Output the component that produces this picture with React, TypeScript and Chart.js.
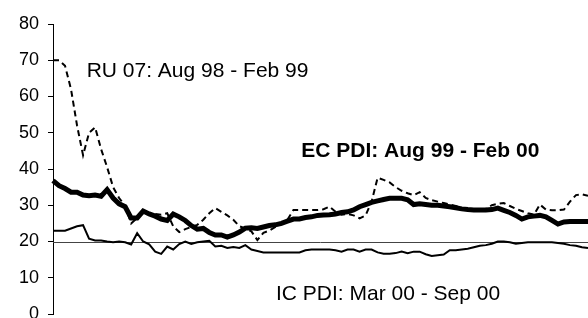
import { useEffect, useRef } from "react";
import { Chart, registerables } from "chart.js";

Chart.register(...registerables);

// Trading days (x categories, not labelled on the chart)
const DAYS: string[] = Array.from({ length: 90 }, (_, i) => `D${i + 1}`);

// RU 07: Aug 98 - Feb 99 (dashed)
const RU07: number[] = [
  70, 70, 68.5, 62, 52, 43.8, 50, 51.5, 45.5, 40.5,
  35, 32, 29.8, 25, 26.5, 28.4, 27.8, 27.6, 27.4, 27.8,
  24.2, 22.6, 23.4, 24, 24.6, 26, 27.8, 29.2, 28.2, 27.2,
  26, 24.2, 23.6, 22.8, 20.4, 22.4, 23, 24, 24.8, 26,
  28.7, 28.7, 28.7, 28.7, 28.7, 28.9, 29.6, 28.2, 27.4, 27.6,
  27.2, 26.4, 27.2, 31, 37.6, 37, 36.3, 35, 34, 33.3,
  32.8, 33.6, 32, 31.4, 31, 30.6, 30.2, 29.8, 29.2, 28.8,
  28.8, 28.8, 29, 30, 30.4, 30.6, 29.8, 29, 28.4, 27.8,
  27.4, 30.2, 28.8, 28.6, 28.6, 28.8, 31, 32.8, 33, 32.6,
];

// EC PDI: Aug 99 - Feb 00 (thick)
const EC_PDI: number[] = [
  36.8, 35.4, 34.6, 33.6, 33.6, 32.8, 32.6, 32.8, 32.5, 34.3,
  32, 30.4, 29.6, 26.5, 26.5, 28.4, 27.6, 27, 26.2, 25.8,
  27.6, 26.8, 25.8, 24.4, 23.4, 23.6, 22.5, 21.8, 21.8, 21.2,
  21.8, 22.6, 23.7, 23.8, 23.6, 24, 24.4, 24.6, 25, 25.6,
  26.2, 26.2, 26.6, 26.8, 27.2, 27.3, 27.4, 27.6, 28, 28.2,
  28.7, 29.6, 30.2, 30.8, 31.2, 31.6, 31.9, 31.9, 31.9, 31.5,
  30.2, 30.4, 30.2, 30, 30, 29.8, 29.6, 29.3, 29, 28.8,
  28.7, 28.7, 28.7, 28.8, 29.2, 28.6, 28, 27.2, 26.2, 26.8,
  27, 27.2, 26.8, 25.8, 24.8, 25.4, 25.5, 25.5, 25.5, 25.5,
];

// IC PDI: Mar 00 - Sep 00 (thin)
const IC_PDI: number[] = [
  23, 23, 23, 23.6, 24.2, 24.5, 20.8, 20.3, 20.3, 20,
  19.8, 20, 19.8, 19.2, 22.3, 20, 19.2, 17.2, 16.6, 18.6,
  17.8, 19.3, 20, 19.3, 19.8, 20, 20.2, 18.6, 18.8, 18.2,
  18.5, 18.2, 19, 17.8, 17.4, 17, 17, 17, 17, 17,
  17, 17, 17.6, 17.8, 17.8, 17.8, 17.8, 17.6, 17.2, 17.8,
  17.8, 17.2, 17.8, 17.8, 17, 16.6, 16.6, 16.8, 17.2, 16.8,
  17.2, 17.2, 16.5, 16, 16.2, 16.4, 17.6, 17.6, 17.8, 18,
  18.4, 18.8, 19, 19.4, 20, 20, 19.8, 19.4, 19.6, 19.8,
  19.8, 19.8, 19.8, 19.8, 19.6, 19.4, 19, 18.8, 18.4, 18.2,
];

const Y_MIN = 0;
const Y_MAX = 80;
const Y_STEP = 10;
const REF_LEVEL = 20;

// Series captions, anchored in data units (x = day index, y = baseline value)
const NOTE_TEXTS = ["RU 07: Aug 98 - Feb 99", "EC PDI: Aug 99 - Feb 00", "IC PDI: Mar 00 - Sep 00"];
const NOTE_X = [5.6, 41.3, 37.1];
const NOTE_Y = [65.4, 43.4, 3.9];
const NOTE_BOLD = [false, true, false];

const FONT = "'Liberation Sans', Arial, Helvetica, sans-serif";

const overlay = {
  id: "overlay",
  beforeDatasetsDraw(chart: any) {
    const { ctx, chartArea, scales } = chart;
    const y = Math.round(scales.y.getPixelForValue(REF_LEVEL)) + 0.5;
    ctx.save();
    ctx.strokeStyle = "#444444";
    ctx.lineWidth = 1;
    ctx.beginPath();
    ctx.moveTo(chartArea.left, y);
    ctx.lineTo(chartArea.right, y);
    ctx.stroke();
    ctx.restore();
  },
  afterDatasetsDraw(chart: any) {
    const { ctx, scales } = chart;
    ctx.save();
    ctx.fillStyle = "#000";
    ctx.textAlign = "left";
    ctx.textBaseline = "alphabetic";
    NOTE_TEXTS.forEach((t, i) => {
      ctx.font = `${NOTE_BOLD[i] ? "bold " : ""}21px ${FONT}`;
      ctx.fillText(t, scales.x.getPixelForValue(NOTE_X[i]), scales.y.getPixelForValue(NOTE_Y[i]));
    });
    ctx.restore();
  },
};

export default function App() {
  const ref = useRef<HTMLCanvasElement | null>(null);

  useEffect(() => {
    document.body.style.margin = "0";
    const canvas = ref.current;
    if (!canvas) return;
    const chart = new Chart(canvas, {
      type: "line",
      data: {
        labels: DAYS,
        datasets: [
          {
            label: "IC PDI",
            data: IC_PDI,
            borderColor: "#000",
            borderWidth: 2,
            pointRadius: 0,
            tension: 0,
            order: 1,
          },
          {
            label: "EC PDI",
            data: EC_PDI,
            borderColor: "#000",
            borderWidth: 5,
            pointRadius: 0,
            tension: 0,
            order: 2,
          },
          {
            label: "RU 07",
            data: RU07,
            borderColor: "#000",
            borderWidth: 2,
            borderDash: [6, 4],
            pointRadius: 0,
            tension: 0,
            order: 3,
          },
        ],
      },
      options: {
        animation: false,
        responsive: false,
        layout: { padding: { top: 24, bottom: 4, left: 0, right: 0 } },
        plugins: {
          legend: { display: false },
          tooltip: { enabled: false },
        },
        scales: {
          x: {
            display: false,
            offset: false,
          },
          y: {
            min: Y_MIN,
            max: Y_MAX,
            ticks: {
              stepSize: Y_STEP,
              color: "#000",
              padding: 9,
              font: { family: FONT, size: 18 },
            },
            grid: {
              drawOnChartArea: false,
              drawTicks: true,
              tickLength: 5,
              color: "#000",
            },
            border: { display: true, color: "#000", width: 1 },
            afterFit(scale: any) {
              scale.width = 53;
              scale.paddingTop = 0;
              scale.paddingBottom = 0;
            },
          },
        },
      },
      plugins: [overlay],
    });
    return () => chart.destroy();
  }, []);

  return <canvas ref={ref} width={588} height={318} style={{ display: "block" }} />;
}
